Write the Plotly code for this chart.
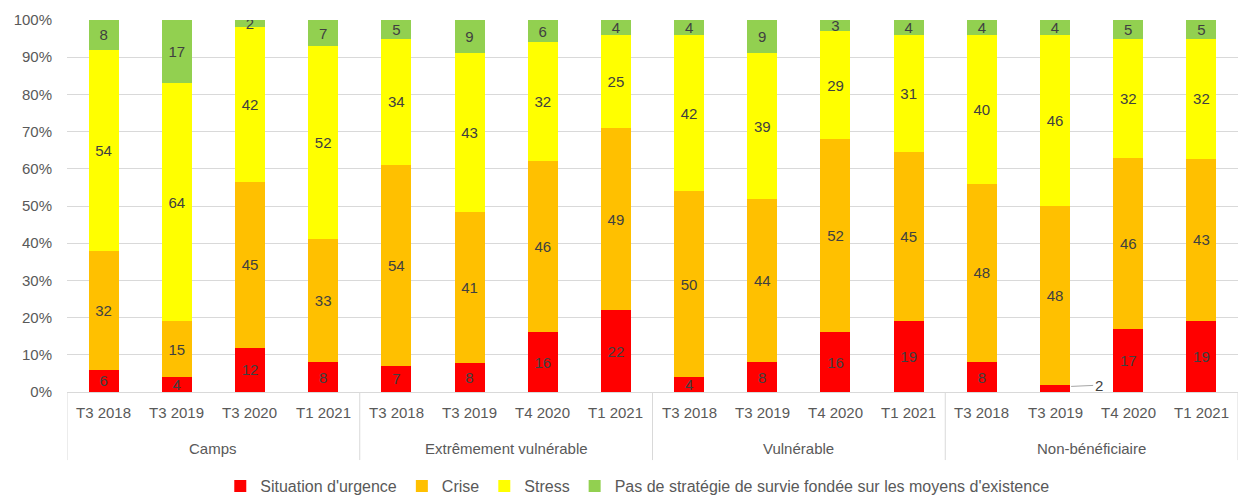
import plotly.graph_objects as go

group_names = ["Camps", "Extrêmement vulnérable", "Vulnérable", "Non-bénéficiaire"]
groups = ["Camps"] * 4 + ["Extrêmement vulnérable"] * 4 + ["Vulnérable"] * 4 + ["Non-bénéficiaire"] * 4
periods = ["T3 2018", "T3 2019", "T3 2020", "T1 2021",
           "T3 2018", "T3 2019", "T4 2020", "T1 2021",
           "T3 2018", "T3 2019", "T4 2020", "T1 2021",
           "T3 2018", "T3 2019", "T4 2020", "T1 2021"]

urgence = [6, 4, 12, 8, 7, 8, 16, 22, 4, 8, 16, 19, 8, 2, 17, 19]
crise = [32, 15, 45, 33, 54, 41, 46, 49, 50, 44, 52, 45, 48, 48, 46, 43]
stress = [54, 64, 42, 52, 34, 43, 32, 25, 42, 39, 29, 31, 40, 46, 32, 32]
pas_strat = [8, 17, 2, 7, 5, 9, 6, 4, 4, 9, 3, 4, 4, 4, 5, 5]

series = [
    ("Situation d'urgence", urgence, "#FF0000"),
    ("Crise", crise, "#FFC000"),
    ("Stress", stress, "#FFFF00"),
    ("Pas de stratégie de survie fondée sur les moyens d'existence", pas_strat, "#92D050"),
]

FONT = "Liberation Sans, Arial, sans-serif"
keys = [g + "|" + p for g, p in zip(groups, periods)]

fig = go.Figure()
for name, vals, col in series:
    texts = [str(v) for v in vals]
    if name == "Situation d'urgence":
        texts[13] = ""  # labelled outside with a leader
    fig.add_trace(go.Bar(
        x=keys, y=vals, name=name,
        marker=dict(color=col, line=dict(width=0)),
        text=texts, textposition="inside", insidetextanchor="middle",
        textangle=0, textfont=dict(size=15, color="#404040", family=FONT),
        hoverinfo="y+name",
    ))

# outside label for the small red segment (Non-bénéficiaire, T3 2019)
fig.add_annotation(x=13.22, y=1.5, xref="x", yref="y", text=str(urgence[13]),
                   showarrow=True, arrowhead=0, arrowwidth=1, arrowcolor="#A6A6A6",
                   ax=22, ay=-1, xanchor="left",
                   font=dict(size=15, color="#404040", family=FONT))

# period labels
for i, p in enumerate(periods):
    fig.add_annotation(x=i, y=-0.055, xref="x", yref="paper", text=p, showarrow=False,
                       yanchor="middle", font=dict(size=15, color="#595959", family=FONT))
# group labels and dividers
for g in group_names:
    idx = [i for i, gg in enumerate(groups) if gg == g]
    fig.add_annotation(x=(idx[0] + idx[-1]) / 2, y=-0.151, xref="x", yref="paper", text=g,
                       showarrow=False, yanchor="middle",
                       font=dict(size=15, color="#595959", family=FONT))
bounds = [-0.5] + [i + 0.5 for i in range(len(groups) - 1) if groups[i] != groups[i + 1]] + [len(groups) - 0.5]
for b in bounds:
    fig.add_shape(type="line", x0=b, x1=b, y0=0, y1=-0.183, xref="x", yref="paper",
                  line=dict(color="#D9D9D9", width=1))

fig.update_layout(
    barmode="stack", barnorm="percent", bargap=0.59,
    width=1241, height=495,
    margin=dict(l=67, r=3, t=20, b=103),
    plot_bgcolor="white", paper_bgcolor="white",
    font=dict(family=FONT, color="#595959", size=15),
    uniformtext=dict(minsize=15, mode="show"),
    legend=dict(orientation="h", x=0.487, xanchor="center", yref="container",
                y=0.018, yanchor="middle",
                font=dict(size=16, color="#595959", family=FONT), itemwidth=30,
                traceorder="normal"),
    showlegend=True,
)
fig.update_yaxes(range=[0, 100], dtick=10, ticksuffix="%", showgrid=True,
                 gridcolor="#D9D9D9", gridwidth=1, zeroline=False, ticklabelstandoff=14,
                 tickfont=dict(size=15, color="#595959"), showline=False)
fig.update_xaxes(type="category", showline=True, linecolor="#D9D9D9",
                 showticklabels=False, ticks="", range=[-0.5, len(groups) - 0.5])

fig.write_html("out.html")
